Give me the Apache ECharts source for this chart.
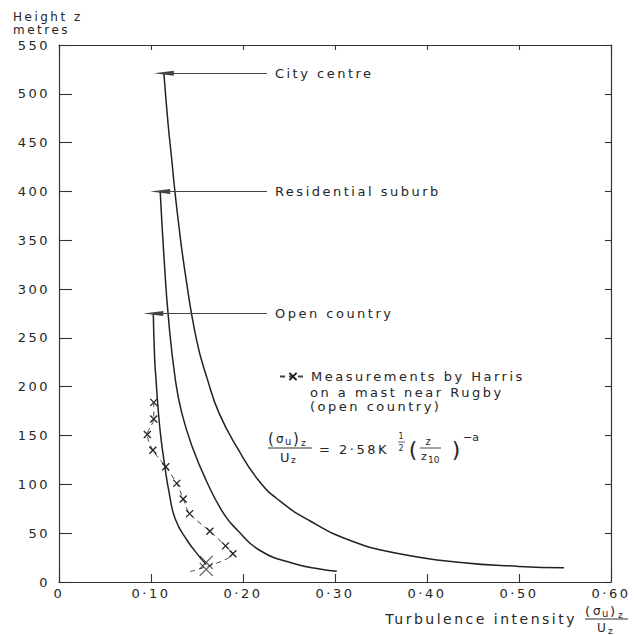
<!DOCTYPE html>
<html><head><meta charset="utf-8">
<script src="https://cdn.jsdelivr.net/npm/echarts@6/dist/echarts.min.js"></script>
<style>
html,body{margin:0;padding:0;background:#fff;}
#c{width:635px;height:635px;}
#c text{letter-spacing:2.5px;}
#c text[style*="Verdana"]{letter-spacing:0;}
</style></head><body><div id="c"></div>
<script>
// ---- data ----
const xTickLabels = ['0', '0·10', '0·20', '0·30', '0·40', '0·50', '0·60'];
const curveNames = ['City centre', 'Residential suburb', 'Open country'];

const cityX = [0.114, 0.1185, 0.1225, 0.126, 0.1295, 0.1366, 0.1495, 0.1615, 0.174, 0.194, 0.217, 0.240, 0.272, 0.318, 0.370, 0.437, 0.500, 0.549];
const cityZ = [521, 470, 433, 400, 371, 320, 248, 207, 173, 137, 104, 83, 63, 42, 29, 20, 16, 14.5];

const resX = [0.110, 0.1143, 0.119, 0.1265, 0.1335, 0.145, 0.160, 0.179, 0.194, 0.219, 0.255, 0.285, 0.302];
const resZ = [400, 330, 270, 207, 173, 138, 104, 70, 53, 32, 19, 13, 11];

const openX = [0.1025, 0.104, 0.1055, 0.1075, 0.1105, 0.1145, 0.1198, 0.1266, 0.139, 0.1526, 0.160];
const openZ = [275, 228, 207, 180, 150, 122, 91, 64, 43, 26, 18];

const harrisX = [0.103, 0.103, 0.096, 0.102, 0.116, 0.128, 0.135, 0.142, 0.164, 0.181, 0.189];
const harrisZ = [184, 167, 151, 135, 118, 101, 85, 70, 52, 37, 29];
const harrisLowX = [0.160, 0.160];
const harrisLowZ = [20, 13];
const harrisTailX = [0.142];
const harrisTailZ = [10.5];

const leaderEndX = 0.226;

// ---- chart ----
const FONT = 'DejaVu Sans';
const FONTF = "'DejaVu Sans', Verdana";   // formula pieces (no extra tracking)
const INK = '#262626';
const zip = (a, b) => a.map((v, i) => [v, b[i]]);
const crossPath = 'path://M0,0L10,10M10,0L0,10';

function curveSeries(name, xs, zs) {
  return {
    name: name, type: 'line', data: zip(xs, zs), smooth: 0.5, symbol: 'none',
    lineStyle: { color: '#222', width: 1.5 }, silent: true, z: 3,
    markLine: {
      silent: true, animation: false,
      symbol: ['triangle', 'none'], symbolSize: [5, 20], symbolOffset: [0, 10],
      itemStyle: { color: '#111' },
      lineStyle: { color: '#444', width: 1, type: 'solid' },
      label: { show: true, position: 'end', distance: 8, formatter: name, color: INK, fontSize: 13, fontFamily: FONT },
      data: [[{ coord: [xs[0], zs[0]] }, { coord: [leaderEndX, zs[0]] }]]
    }
  };
}

function t(text, x, y, size, align, fam) {
  return { type: 'text', x: x, y: y, silent: true,
    style: { text: text, fill: INK, fontSize: size, fontFamily: fam || FONTF, align: align || 'left', verticalAlign: 'middle' } };
}
function hl(x1, x2, y, w) {
  return { type: 'line', silent: true, shape: { x1: x1, y1: y, x2: x2, y2: y }, style: { stroke: '#333', lineWidth: w || 1.1 } };
}
// (σu)z over Uz fraction, left edge at x0
function sigmaFrac(x0, yNum, yBar, yDen, barW, pSize, uSize) {
  return [
    t('(', x0, yNum, pSize), t('σ', x0 + 8, yNum, 12), t('u', x0 + 17, yNum + 2, 10),
    t(')', x0 + 25, yNum, pSize), t('z', x0 + 33, yNum + 4, 9),
    hl(x0, x0 + barW, yBar),
    t('U', x0 + 12, yDen, uSize), t('z', x0 + 23, yDen + 3, 9)
  ];
}

const axisLine = { show: true, onZero: false, lineStyle: { color: '#333', width: 1.2 } };
const tickStyle = { color: '#333', width: 1.1 };

const harrisData = zip(harrisX, harrisZ).concat(zip(harrisTailX, harrisTailZ).map(p => ({ value: p, symbol: 'none' })));

const option = {
  animation: false,
  backgroundColor: '#ffffff',
  grid: { left: 59, right: 24, top: 45, bottom: 53, containLabel: false, outerBoundsMode: 'none' },
  xAxis: [
    { type: 'value', min: 0, max: 0.6, interval: 0.1, position: 'bottom',
      axisLine: axisLine, axisTick: { show: true, inside: true, length: 8, lineStyle: tickStyle },
      axisLabel: { show: true, margin: 5, color: INK, fontSize: 13, fontFamily: FONT,
        formatter: v => xTickLabels[Math.round(v * 10)] },
      splitLine: { show: false } },
    { type: 'value', min: 0, max: 0.6, interval: 0.1, position: 'top',
      axisLine: axisLine, axisTick: { show: true, inside: true, length: 5, lineStyle: tickStyle },
      axisLabel: { show: false }, splitLine: { show: false } }
  ],
  yAxis: [
    { type: 'value', min: 0, max: 550, interval: 50, position: 'left',
      axisLine: axisLine, axisTick: { show: true, inside: true, length: 13, lineStyle: tickStyle },
      axisLabel: { show: true, margin: 9, color: INK, fontSize: 13, fontFamily: FONT },
      splitLine: { show: false } },
    { type: 'value', min: 0, max: 550, interval: 50, position: 'right',
      axisLine: axisLine, axisTick: { show: true, inside: true, length: 6, lineStyle: tickStyle },
      axisLabel: { show: false }, splitLine: { show: false } }
  ],
  legend: {
    show: true, data: ['Measurements by Harris'], left: 279, top: 370, padding: 0,
    itemWidth: 26, itemHeight: 9, selectedMode: false,
    textStyle: { color: INK, fontSize: 13, fontFamily: FONT }
  },
  series: [
    curveSeries(curveNames[0], cityX, cityZ),
    curveSeries(curveNames[1], resX, resZ),
    curveSeries(curveNames[2], openX, openZ),
    { name: 'Measurements by Harris', type: 'line', data: harrisData, smooth: 0.3,
      symbol: crossPath, symbolSize: 7, showAllSymbol: true,
      itemStyle: { color: '#222', borderColor: '#222', borderWidth: 1.3 },
      lineStyle: { color: '#444', width: 1, type: [5, 4] }, z: 4 },
    { name: 'Harris low', type: 'scatter', data: zip(harrisLowX, harrisLowZ),
      symbol: crossPath, symbolSize: 13,
      itemStyle: { color: '#222', borderColor: '#222', borderWidth: 1.1 }, z: 4 }
  ],
  graphic: [
    t('Height z', 13, 17, 12, 'left', FONT),
    t('metres', 13, 30, 12, 'left', FONT),
    t('on a mast near Rugby', 310, 392, 13, 'left', FONT),
    t('(open country)', 310, 406, 13, 'left', FONT),
    // formula
    ...sigmaFrac(268, 439, 448, 457, 44, 15, 13),
    t('= 2·58K', 319, 449, 13, 'left', FONT),
    t('1', 401, 436, 8, 'center'),
    hl(398, 405, 442, 0.8),
    t('2', 401, 448, 8, 'center'),
    t('(', 413, 449, 22, 'center'),
    t('z', 428, 441, 10, 'center'),
    hl(420, 441, 448, 0.9),
    t('z', 421, 456, 11, 'left'),
    t('10', 428, 460, 9, 'left'),
    t(')', 456, 449, 22, 'center'),
    t('−a', 463, 437, 11, 'left'),
    // x axis title
    t('Turbulence intensity', 577, 619, 14, 'right', FONT),
    ...sigmaFrac(585, 611, 619, 628, 43, 13, 12)
  ]
};

const chart = echarts.init(document.getElementById('c'), null, { renderer: 'svg', width: 635, height: 635 });
chart.setOption(option);
</script></body></html>
